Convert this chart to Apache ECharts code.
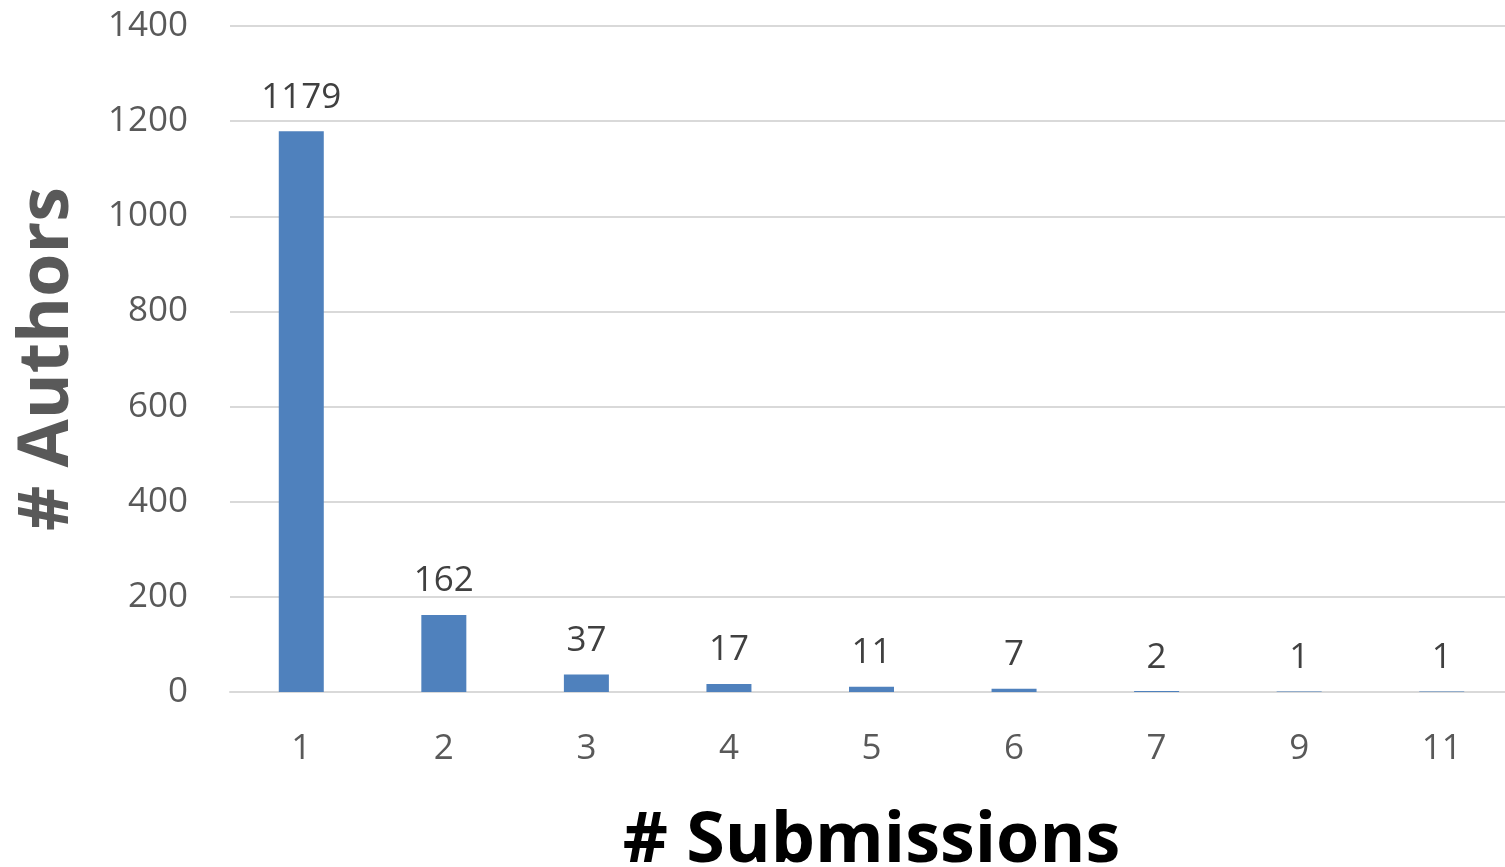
<!DOCTYPE html>
<html>
<head>
<meta charset="utf-8">
<script src="https://cdn.jsdelivr.net/npm/echarts@6/dist/echarts.min.js"></script>
<style>html,body{margin:0;padding:0;background:#fff;overflow:hidden;}#c{width:1505px;height:867px;}</style>
</head>
<body>
<div id="c"></div>
<script>
const categories = ['1','2','3','4','5','6','7','9','11'];
const authors = [1179,162,37,17,11,7,2,1,1];
const yTicks = {min:0, max:1400, interval:200};

const chart = echarts.init(document.getElementById('c'));
chart.setOption({
  animation:false,
  grid:{left:230, top:26, width:1283, bottom:175, outerBoundsMode:'none', containLabel:false},
  xAxis:{
    type:'category', data:categories,
    name:'# Submissions', nameLocation:'middle', nameGap:115,
    nameTextStyle:{fontFamily:'Open Sans', fontWeight:'bold', fontSize:70, color:'#000'},
    axisLine:{lineStyle:{color:'#d9d9d9', width:2}},
    axisTick:{show:false},
    axisLabel:{fontFamily:'Open Sans', fontSize:35, color:'#595959', margin:40}
  },
  yAxis:{
    type:'value', min:yTicks.min, max:yTicks.max, interval:yTicks.interval,
    name:'# Authors', nameLocation:'middle', nameGap:147, nameRotate:90,
    nameTextStyle:{fontFamily:'Open Sans', fontWeight:'bold', fontSize:70, color:'#595959'},
    axisLine:{show:false}, axisTick:{show:false},
    axisLabel:{fontFamily:'Open Sans', fontSize:35, color:'#595959', margin:42, formatter:v=>String(v)},
    splitLine:{lineStyle:{color:'#d9d9d9', width:2}}
  },
  series:[{
    type:'bar', data:authors, barWidth:45,
    itemStyle:{color:'#4f81bd'},
    label:{show:true, position:'top', distance:16, fontFamily:'Open Sans', fontSize:35, color:'#404040'}
  }]
});
</script>
</body>
</html>
